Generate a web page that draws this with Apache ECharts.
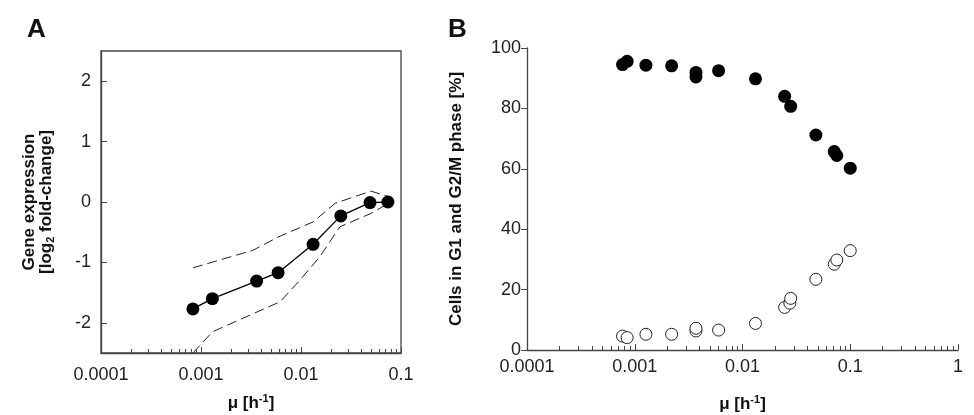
<!DOCTYPE html>
<html><head><meta charset="utf-8">
<script src="https://cdn.jsdelivr.net/npm/echarts@6/dist/echarts.min.js"></script>
<style>html,body,#main{width:974px;height:415px;margin:0;background:#fff}</style>
</head><body><div id="main"></div>
<script>
// panel A: gene expression vs growth rate
var muA = [0.00083, 0.0013, 0.0036, 0.0059, 0.0132, 0.025, 0.049, 0.074];
var exprA = [-1.77, -1.6, -1.31, -1.17, -0.7, -0.23, -0.01, 0];
var upperMu = [0.00083, 0.0033, 0.0059, 0.0132, 0.022, 0.05, 0.075];
var upperA = [-1.09, -0.8, -0.58, -0.33, -0.02, 0.18, 0.09];
var lowerMu = [0.00083, 0.0013, 0.0062, 0.0098, 0.0155, 0.0245, 0.05, 0.075];
var lowerA = [-2.5, -2.15, -1.65, -1.29, -0.9, -0.41, -0.19, -0.02];
// panel B: cell cycle fractions
var muB = [0.00077, 0.00085, 0.00127, 0.0022, 0.0037, 0.0037, 0.006, 0.0132, 0.0246, 0.028, 0.048, 0.071, 0.075, 0.1];
var g1B = [94.5, 95.6, 94.3, 94.1, 91.9, 90.4, 92.5, 89.8, 84, 80.7, 71.2, 65.7, 64.4, 60.2];
var muB2 = [0.00077, 0.00085, 0.00127, 0.0022, 0.0037, 0.0037, 0.006, 0.0132, 0.0246, 0.0275, 0.028, 0.048, 0.071, 0.075, 0.1];
var g2B = [4.6, 4.1, 5.2, 5.2, 6.3, 7.2, 6.6, 8.8, 14.1, 15.5, 17.1, 23.4, 28.4, 29.8, 32.9];
var yTicksA = [-2, -1, 0, 1, 2];

function zip(a, b) { return a.map(function (v, i) { return [v, b[i]]; }); }
function fmtX(v) { return ['0.0001','0.001','0.01','0.1','1'][Math.round(Math.log10(v)) + 4]; }

var font = 'Liberation Sans, Arial, sans-serif';
var lbl = { color: '#222', fontSize: 18, fontFamily: font };
var nameStyle = { color: '#111', fontSize: 17, fontWeight: 'bold', fontFamily: font,
  rich: { sup: { fontSize: 11, fontWeight: 'bold', verticalAlign: 'top', padding: [0, 0, 9, 0] },
          sub: { fontSize: 11, fontWeight: 'bold', padding: [9, 0, 0, 0] } } };
var axLine = { show: true, onZero: false, lineStyle: { color: '#444', width: 1.3 } };

var chart = echarts.init(document.getElementById('main'));
chart.setOption({
  animation: false,
  textStyle: { fontFamily: font },
  title: [
    { text: 'A', left: 22, top: 12, textStyle: { fontSize: 26, fontWeight: 'bold', color: '#111' } },
    { text: 'B', left: 443, top: 12, textStyle: { fontSize: 26, fontWeight: 'bold', color: '#111' } }
  ],
  grid: [
    { left: 101, width: 300, top: 51, height: 302, show: true, borderColor: '#444', borderWidth: 1.3, outerBoundsMode: 'none', containLabel: false },
    { left: 527, width: 431, top: 48, height: 302, outerBoundsMode: 'none', containLabel: false }
  ],
  xAxis: [
    { type: 'log', gridIndex: 0, min: 0.0001, max: 0.1, logBase: 10,
      axisLine: axLine, axisTick: { show: true, inside: true, length: 6, lineStyle: { color: '#444' } },
      minorTick: { show: true, splitNumber: 9, length: 4, lineStyle: { color: '#444' } },
      axisLabel: Object.assign({ formatter: fmtX, margin: 13 }, lbl), splitLine: { show: false },
      name: 'μ [h{sup|-1}]', nameLocation: 'middle', nameGap: 40, nameTextStyle: nameStyle },
    { type: 'log', gridIndex: 1, min: 0.0001, max: 1, logBase: 10,
      axisLine: axLine, axisTick: { show: true, inside: true, length: 6, lineStyle: { color: '#444' } },
      minorTick: { show: true, splitNumber: 9, length: 4, lineStyle: { color: '#444' } },
      axisLabel: Object.assign({ formatter: fmtX, margin: 8 }, lbl), splitLine: { show: false },
      name: 'μ [h{sup|-1}]', nameLocation: 'middle', nameGap: 44, nameTextStyle: nameStyle }
  ],
  yAxis: [
    { type: 'value', gridIndex: 0, min: -2.5, max: 2.5, interval: 0.5,
      axisLine: axLine,
      axisTick: { show: true, inside: true, length: 6, lineStyle: { color: '#444' }, customValues: yTicksA },
      axisLabel: Object.assign({ margin: 10, customValues: yTicksA }, lbl),
      splitLine: { show: false },
      name: 'Gene expression\n[log{sub|2} fold-change]', nameLocation: 'middle', nameGap: 46,
      nameTextStyle: Object.assign({ lineHeight: 17 }, nameStyle) },
    { type: 'value', gridIndex: 1, min: 0, max: 100, interval: 20,
      axisLine: axLine, axisTick: { show: true, length: 6, lineStyle: { color: '#444' } },
      axisLabel: Object.assign({ margin: 6 }, lbl), splitLine: { show: false },
      name: 'Cells in G1 and G2/M phase [%]', nameLocation: 'middle', nameGap: 62, nameTextStyle: nameStyle }
  ],
  series: [
    { type: 'line', xAxisIndex: 0, yAxisIndex: 0, data: zip(upperMu, upperA), symbol: 'none',
      lineStyle: { color: '#222', width: 1, type: [10, 5] } },
    { type: 'line', xAxisIndex: 0, yAxisIndex: 0, data: zip(lowerMu, lowerA), symbol: 'none',
      lineStyle: { color: '#222', width: 1, type: [10, 5] } },
    { type: 'line', xAxisIndex: 0, yAxisIndex: 0, data: zip(muA, exprA), symbol: 'circle', symbolSize: 13,
      itemStyle: { color: '#000' }, lineStyle: { color: '#000', width: 1.3 } },
    { type: 'scatter', xAxisIndex: 1, yAxisIndex: 1, data: zip(muB, g1B), symbol: 'circle', symbolSize: 13,
      itemStyle: { color: '#000', opacity: 1 } },
    { type: 'scatter', xAxisIndex: 1, yAxisIndex: 1, data: zip(muB2, g2B), symbol: 'circle', symbolSize: 12,
      itemStyle: { color: '#fff', borderColor: '#222', borderWidth: 1, opacity: 1 } }
  ]
});
</script></body></html>
